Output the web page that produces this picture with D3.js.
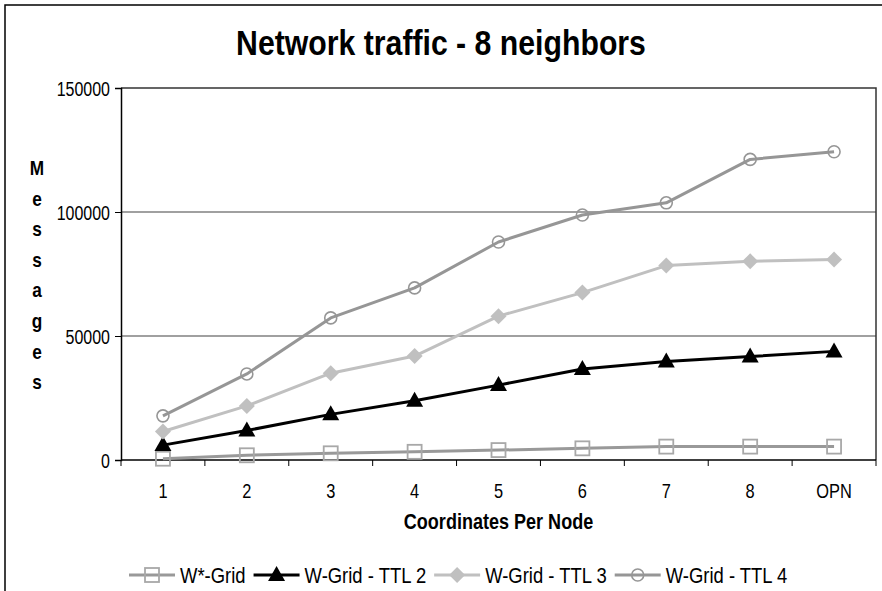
<!DOCTYPE html>
<html><head><meta charset="utf-8">
<script src="https://cdn.jsdelivr.net/npm/d3@7"></script>
<style>html,body{margin:0;padding:0;background:#fff;}svg{display:block;}</style>
</head><body>
<svg id="chart" width="882" height="591"></svg>
<script>
const categories = ["1","2","3","4","5","6","7","8","OPN"];
const seriesNames = ["W*-Grid","W-Grid - TTL 2","W-Grid - TTL 3","W-Grid - TTL 4"];
const wstarGrid = [520, 1900, 2700, 3300, 4000, 4700, 5400, 5400, 5400];
const wgridTTL2 = [6000, 11900, 18400, 23900, 30200, 36700, 39700, 41700, 43800];
const wgridTTL3 = [11500, 21800, 35000, 41900, 58000, 67500, 78400, 80100, 80800];
const wgridTTL4 = [17800, 34700, 57300, 69400, 87900, 98800, 103700, 121200, 124300];
const yTicks = [0, 50000, 100000, 150000];

const FONT = "'Liberation Sans',Arial,sans-serif";
const SX = 0.82; // condensed look
const svg = d3.select("#chart");
const W = 882, H = 591;
const m = {left:121, right:876, top:88, bottom:460};

function label(parent, x, y, txt, size, opts={}){
  const g = parent.append("g").attr("transform",`translate(${x},${y}) scale(${opts.sx||SX},1)`);
  const t = g.append("text").attr("text-anchor",opts.anchor||"start")
    .attr("font-family",FONT).attr("font-size",size).attr("fill","#000")
    .attr("font-weight",opts.bold?"bold":"normal").text(txt);
  return t;
}

// outer chart border (cropped at right/bottom)
svg.append("rect").attr("x",5).attr("y",5).attr("width",W).attr("height",H)
  .attr("fill","#fff").attr("stroke","#000").attr("stroke-width",1.5);

const x = d3.scaleBand().domain(categories).range([m.left, m.right]).padding(0);
const y = d3.scaleLinear().domain([0,150000]).range([m.bottom, m.top]);
const cx = c => x(c) + x.bandwidth()/2;

// gridlines
svg.append("g").selectAll("line").data(yTicks.filter(t=>t>0 && t<150000)).join("line")
  .attr("x1",m.left).attr("x2",m.right).attr("y1",d=>y(d)).attr("y2",d=>y(d))
  .attr("stroke","#808080").attr("stroke-width",1.5);
// plot border top/right
svg.append("path").attr("d",`M${m.left},${m.top}H${m.right}V${m.bottom}`)
  .attr("fill","none").attr("stroke","#333").attr("stroke-width",1.5);

// y axis
const yAxis = svg.append("g").attr("transform",`translate(${m.left},0)`)
  .call(d3.axisLeft(y).tickValues(yTicks).tickSize(6).tickPadding(5).tickFormat(d3.format("d")));
yAxis.select(".domain").attr("stroke","#000").attr("stroke-width",1.5);
yAxis.selectAll(".tick line").attr("stroke","#000").attr("stroke-width",1);
yAxis.selectAll("text").remove();
yAxis.selectAll(".tick").each(function(d){
  label(d3.select(this), -11, 7, d3.format("d")(d), 19.5, {anchor:"end"});
});

// x axis with tick marks at category boundaries
const xAxisG = svg.append("g").attr("transform",`translate(0,${m.bottom})`);
xAxisG.append("line").attr("x1",m.left).attr("x2",m.right).attr("stroke","#000").attr("stroke-width",1.5);
const bounds = categories.map(c=>x(c)).concat([m.right]);
xAxisG.selectAll("line.tk").data(bounds).join("line").attr("class","tk")
  .attr("x1",d=>d).attr("x2",d=>d).attr("y1",0).attr("y2",6).attr("stroke","#000");
categories.forEach(c=>label(xAxisG, cx(c), 38, c, 20, {anchor:"middle"}));

// titles
label(svg, 441, 55, "Network traffic - 8 neighbors", 36, {anchor:"middle", bold:true, sx:0.84});
label(svg, (m.left+m.right)/2, 529, "Coordinates Per Node", 22, {anchor:"middle", bold:true});
"Messages".split("").forEach((ch,i)=>label(svg, 37, 175+i*30.6, ch, 21, {anchor:"middle", bold:true}));

// series
const styles = [
  {data:wstarGrid, line:"#999999", marker:"square", mstroke:"#a8a8a8", mfill:"none", sw:3},
  {data:wgridTTL2, line:"#000000", marker:"triangle", mstroke:"none", mfill:"#000", sw:3},
  {data:wgridTTL3, line:"#c0c0c0", marker:"diamond", mstroke:"none", mfill:"#c0c0c0", sw:3},
  {data:wgridTTL4, line:"#969696", marker:"circle", mstroke:"#969696", mfill:"none", sw:3}
];
function drawMarker(g, type, px, py, s){
  if(type==="square"){
    g.append("rect").attr("x",px-7).attr("y",py-7).attr("width",14).attr("height",14)
      .attr("fill",s.mfill).attr("stroke",s.mstroke).attr("stroke-width",1.8);
  } else if(type==="triangle"){
    g.append("path").attr("d",`M${px},${py-9}L${px+8.5},${py+6}L${px-8.5},${py+6}Z`).attr("fill",s.mfill);
  } else if(type==="diamond"){
    g.append("path").attr("d",`M${px},${py-8}L${px+8},${py}L${px},${py+8}L${px-8},${py}Z`).attr("fill",s.mfill);
  } else {
    g.append("circle").attr("cx",px).attr("cy",py).attr("r",6)
      .attr("fill",s.mfill).attr("stroke",s.mstroke).attr("stroke-width",1.6);
  }
}
const line = d3.line().x((d,i)=>cx(categories[i])).y(d=>y(d));
styles.forEach(s=>{
  const g = svg.append("g");
  g.append("path").attr("d",line(s.data)).attr("fill","none").attr("stroke",s.line)
    .attr("stroke-width",s.sw).attr("stroke-linejoin","round");
  s.data.forEach((v,i)=>drawMarker(g, s.marker, cx(categories[i]), y(v), s));
});

// legend
const leg = svg.append("g");
let lx = 129; const ly = 575;
styles.forEach((s,i)=>{
  leg.append("line").attr("x1",lx).attr("x2",lx+46).attr("y1",ly).attr("y2",ly)
    .attr("stroke",s.line).attr("stroke-width",3);
  drawMarker(leg, s.marker, lx+23, ly, s);
  const t = label(leg, lx+51, ly+8, seriesNames[i], 22.5);
  lx += 51 + t.node().getComputedTextLength()*SX + 8;
});
</script>
</body></html>
